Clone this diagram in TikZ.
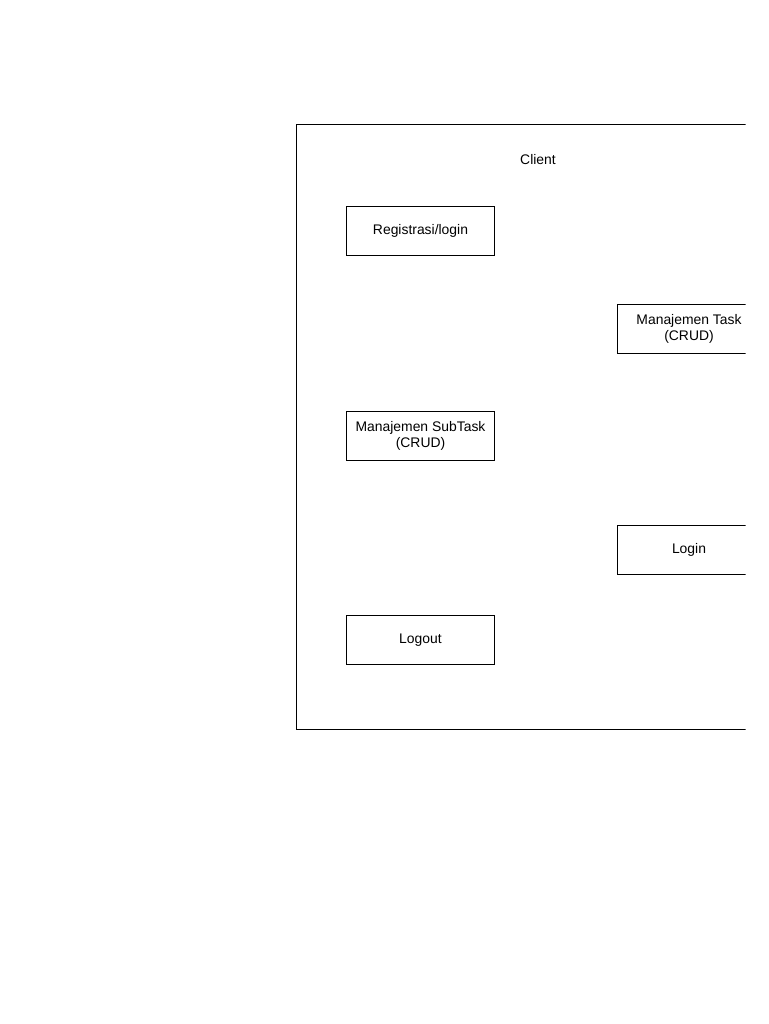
\documentclass[tikz,border=0pt]{standalone}
\usepackage{fontspec}
\setmainfont{Liberation Sans}
\begin{document}
\begin{tikzpicture}[x=1pt,y=-1pt,
  box/.style={draw=black, line width=1pt, minimum width=148pt, minimum height=49pt, inner sep=0pt, align=center, font=\fontsize{13.9}{16}\selectfont},
  lbl/.style={inner sep=0pt, font=\fontsize{13.9}{16}\selectfont}]
\useasboundingbox (0,0) rectangle (768,1024);
\begin{scope}
\clip (0,0) rectangle (745.5,1024);
\node[draw=black, line width=1pt, minimum width=470pt, minimum height=604pt, inner sep=0pt, anchor=north west] (client) at (295.5,124.5) {};
\node[lbl] (title) at (538,160) {Client};
\node[box] (reg) at (420.5,231) {Registrasi/login};
\node[box, minimum width=144pt] (task) at (689,329) {Manajemen Task\\(CRUD)};
\node[box] (sub) at (420.5,435.5) {Manajemen SubTask\\(CRUD)};
\node[box, minimum width=144pt] (login) at (689,549.5) {Login};
\node[box] (logout) at (420.5,640) {Logout};
\end{scope}
\end{tikzpicture}
\end{document}
